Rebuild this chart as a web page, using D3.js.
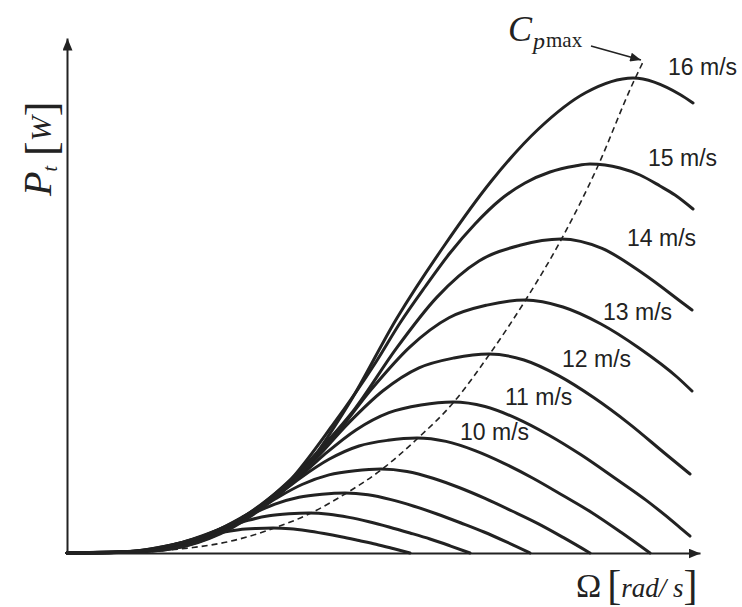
<!DOCTYPE html>
<html>
<head>
<meta charset="utf-8">
<script src="https://cdn.jsdelivr.net/npm/d3@7"></script>
<style>
  body { margin: 0; background: #fff; }
  svg { display: block; }
  .curve { fill: none; stroke: #222; stroke-width: 3; }
  .lbl { font-family: "Liberation Sans", Arial, sans-serif; font-size: 23px; fill: #222; }
  .math { font-family: "Liberation Serif", "Times New Roman", serif; fill: #222; }
</style>
</head>
<body>
<svg id="chart" width="742" height="607"></svg>
<script>
// wind speeds of the curves (m/s)
const speeds = [6, 7, 8, 9, 10, 11, 12, 13, 14, 15, 16];

// turbine power vs rotor speed, [omega (rad/s), P]
const p6 = [[0,0],[0.34,0.02],[0.51,0.08],[0.69,0.21],[0.86,0.45],[1.03,0.78],[1.20,1.15],[1.37,1.63],[1.54,2.04],[1.72,2.33],[1.89,2.45],[2.06,2.50],[2.23,2.43],[2.40,2.23],[2.57,1.95],[2.74,1.63],[2.92,1.25],[3.09,0.88],[3.26,0.45],[3.43,0]];
const p7 = [[0,0],[0.40,0.02],[0.60,0.12],[0.81,0.34],[1.01,0.72],[1.21,1.24],[1.41,1.84],[1.61,2.60],[1.81,3.26],[2.02,3.72],[2.22,3.92],[2.42,4.00],[2.62,3.88],[2.82,3.56],[3.02,3.12],[3.22,2.60],[3.43,2.00],[3.63,1.40],[3.83,0.72],[4.03,0]];
const p8 = [[0,0],[0.46,0.04],[0.69,0.18],[0.93,0.51],[1.16,1.08],[1.39,1.86],[1.62,2.76],[1.85,3.90],[2.08,4.89],[2.32,5.58],[2.55,5.88],[2.78,6.00],[3.01,5.82],[3.24,5.34],[3.47,4.68],[3.70,3.90],[3.94,3.00],[4.17,2.10],[4.40,1.08],[4.63,0]];
const p9 = [[0,0],[0.52,0.05],[0.79,0.25],[1.05,0.71],[1.31,1.51],[1.57,2.60],[1.83,3.86],[2.09,5.46],[2.35,6.85],[2.62,7.81],[2.88,8.23],[3.14,8.40],[3.40,8.15],[3.66,7.48],[3.92,6.55],[4.18,5.46],[4.45,4.20],[4.71,2.94],[4.97,1.51],[5.23,0]];
const p10 = [[0,0],[0.58,0.07],[0.87,0.35],[1.17,0.98],[1.46,2.07],[1.75,3.57],[2.04,5.29],[2.33,7.48],[2.62,9.37],[2.92,10.70],[3.21,11.27],[3.50,11.50],[3.79,11.16],[4.08,10.24],[4.37,8.97],[4.66,7.48],[4.96,5.75],[5.25,4.03],[5.54,2.07],[5.83,0]];
const p11 = [[0,0],[0.64,0.09],[0.97,0.45],[1.29,1.28],[1.61,2.72],[1.93,4.68],[2.25,6.95],[2.57,9.82],[2.89,12.31],[3.22,14.04],[3.54,14.80],[3.86,15.10],[4.18,14.65],[4.50,13.44],[4.82,11.78],[5.14,9.82],[5.47,7.55],[5.79,5.29],[6.11,2.72],[6.23,1.69]];
const p12 = [[0,0],[0.70,0.12],[1.06,0.60],[1.41,1.69],[1.76,3.58],[2.11,6.17],[2.46,9.15],[2.81,12.94],[3.16,16.22],[3.52,18.51],[3.87,19.50],[4.22,19.90],[4.57,19.30],[4.92,17.71],[5.27,15.52],[5.62,12.94],[5.98,9.95],[6.23,7.90]];
const p13 = [[0,0],[0.76,0.15],[1.15,0.76],[1.53,2.15],[1.91,4.55],[2.29,7.84],[2.67,11.64],[3.05,16.45],[3.43,20.62],[3.82,23.53],[4.20,24.79],[4.58,25.30],[4.96,24.60],[5.34,22.90],[5.72,20.50],[6.10,17.60],[6.25,16.20]];
const p14 = [[0,0],[0.82,0.19],[1.24,0.94],[1.65,2.67],[2.06,5.65],[2.47,9.73],[2.88,14.44],[3.29,20.41],[3.70,25.59],[4.12,29.20],[4.53,30.77],[4.94,31.40],[5.35,30.46],[5.76,27.95],[6.17,24.90],[6.25,24.30]];
const p15 = [[0,0],[0.88,0.23],[1.33,1.17],[1.77,3.32],[2.21,7.02],[2.65,12.70],[3.09,19.10],[3.33,23.00],[3.58,26.60],[3.83,30.00],[4.08,32.90],[4.33,35.30],[4.58,37.00],[4.83,38.10],[5.08,38.70],[5.23,38.90],[5.38,38.80],[5.53,38.50],[5.73,37.80],[5.93,36.70],[6.08,35.80],[6.26,34.40]];
const p16 = [[0,0],[0.94,0.29],[1.42,1.43],[1.89,4.04],[2.36,8.20],[2.83,15.10],[3.30,23.50],[3.77,30.70],[4.24,37.15],[4.72,42.45],[5.19,46.05],[5.66,47.50],[6.13,45.85],[6.26,45.00]];
const powerCurves = [p6, p7, p8, p9, p10, p11, p12, p13, p14, p15, p16];

// locus of the maxima (Cp max), dashed
const cpMax = [[0.75,0.05],[1.0,0.27],[1.26,0.55],[1.6,1.1],[1.93,2.0],[2.06,2.45],[2.42,3.9],[2.78,5.9],[3.14,8.3],[3.50,11.4],[3.86,15.0],[4.22,19.8],[4.58,25.2],[4.94,31.3],[5.30,38.5],[5.66,47.0],[5.76,49.1]];

// which curves carry a label, and where (omega, P of the text anchor)
const labelSpeeds = [10, 11, 12, 13, 14, 15, 16];
const labelPos = [[3.93,11.3],[4.38,14.8],[4.95,18.6],[5.36,23.3],[5.60,30.7],[5.81,38.7],[6.01,47.8]];

const width = 742, height = 607;
const margin = { top: 38, right: 42, bottom: 54, left: 67 };

const svg = d3.select("#chart");

const x = d3.scaleLinear().domain([0, 6.33]).range([margin.left, width - margin.right]);
const y = d3.scaleLinear().domain([0, 51.5]).range([height - margin.bottom, margin.top]);

// arrow heads
const defs = svg.append("defs");
defs.append("marker")
    .attr("id", "axarrow")
    .attr("viewBox", "0 0 12 10")
    .attr("refX", 12).attr("refY", 5)
    .attr("markerWidth", 12).attr("markerHeight", 10)
    .attr("markerUnits", "userSpaceOnUse")
    .attr("orient", "auto")
    .append("path").attr("d", "M0,0L12,5L0,10Z").attr("fill", "#222");
defs.append("marker")
    .attr("id", "cparrow")
    .attr("viewBox", "0 0 12 10")
    .attr("refX", 12).attr("refY", 5)
    .attr("markerWidth", 12).attr("markerHeight", 9)
    .attr("markerUnits", "userSpaceOnUse")
    .attr("orient", "auto")
    .append("path").attr("d", "M0,0L12,5L0,10Z").attr("fill", "#222");

const line = d3.line()
    .x(d => x(d[0]))
    .y(d => y(d[1]))
    .curve(d3.curveMonotoneX);

// power curves
svg.append("g")
    .selectAll("path")
    .data(powerCurves)
    .join("path")
    .attr("class", "curve")
    .attr("stroke-linecap", "round")
    .attr("d", line);

// Cp max dashed line
svg.append("path")
    .datum(cpMax)
    .attr("fill", "none")
    .attr("stroke", "#222")
    .attr("stroke-width", 1.6)
    .attr("stroke-dasharray", "6,4")
    .attr("d", line);

// axes, no ticks, just arrows
const xAxis = svg.append("g")
    .attr("transform", `translate(0, ${y(0)})`)
    .call(d3.axisBottom(x).tickValues([]).tickSizeOuter(0));
const yAxis = svg.append("g")
    .attr("transform", `translate(${x(0)}, 0)`)
    .call(d3.axisLeft(y).tickValues([]).tickSizeOuter(0));
[xAxis, yAxis].forEach(g => g.select(".domain")
    .attr("stroke", "#222")
    .attr("stroke-width", 2)
    .attr("marker-end", "url(#axarrow)"));

// speed labels
svg.append("g")
    .selectAll("text")
    .data(labelSpeeds)
    .join("text")
    .attr("class", "lbl")
    .attr("x", (d, i) => x(labelPos[i][0]))
    .attr("y", (d, i) => y(labelPos[i][1]))
    .text(d => d + " m/s");

// Cp max annotation
const cp = svg.append("text").attr("class", "math").attr("x", 508).attr("y", 41);
cp.append("tspan").attr("font-size", 36).attr("font-style", "italic").text("C");
cp.append("tspan").attr("font-size", 24).attr("font-style", "italic").attr("dy", 8).attr("dx", 1).text("p");
cp.append("tspan").attr("font-size", 21).attr("dy", -2).attr("dx", 1).text("max");

svg.append("line")
    .attr("x1", 591).attr("y1", 46)
    .attr("x2", x(5.76) - 2).attr("y2", y(49.1) - 2)
    .attr("stroke", "#222").attr("stroke-width", 1.6)
    .attr("marker-end", "url(#cparrow)");

// x label
const xl = svg.append("text").attr("class", "math").attr("x", 576).attr("y", 597);
xl.append("tspan").attr("font-size", 34).text("Ω");
xl.append("tspan").attr("font-size", 42).attr("dx", 6).attr("dy", 2).text("[");
xl.append("tspan").attr("font-size", 27).attr("font-style", "italic").attr("dy", -2).text("rad/ s");
xl.append("tspan").attr("font-size", 42).attr("dy", 2).text("]");

// y label, rotated
const yl = svg.append("text").attr("class", "math")
    .attr("transform", "translate(51, 196) rotate(-90)");
yl.append("tspan").attr("font-size", 40).attr("font-style", "italic").text("P");
yl.append("tspan").attr("font-size", 20).attr("font-style", "italic").attr("dy", 6).text("t");
yl.append("tspan").attr("font-size", 44).attr("dx", 10).attr("dy", -1).text("[");
yl.append("tspan").attr("font-size", 30).attr("font-style", "italic").attr("dy", -5).text("W");
yl.append("tspan").attr("font-size", 44).attr("dy", 5).text("]");
</script>
</body>
</html>
